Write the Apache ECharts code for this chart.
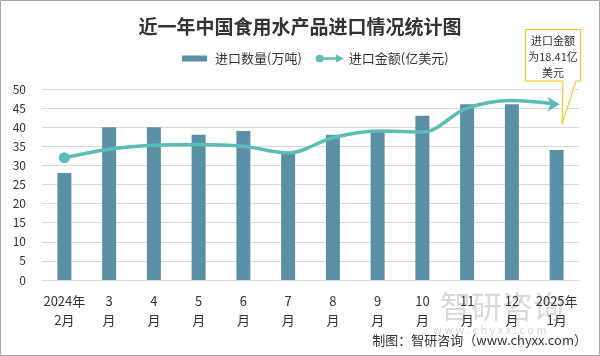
<!DOCTYPE html>
<html><head><meta charset="utf-8">
<script src="https://cdn.jsdelivr.net/npm/echarts@6/dist/echarts.min.js"></script>
<style>html,body{margin:0;padding:0;background:#fff}#c{width:600px;height:356px}</style>
</head><body><div id="c"></div>
<script>
const categories = ['2024年\n2月','3\n月','4\n月','5\n月','6\n月','7\n月','8\n月','9\n月','10\n月','11\n月','12\n月','2025年\n1月'];
const quantity = [28, 40, 40, 38, 39, 33, 38, 39, 43, 46, 46, 34];
const amount = [12.8, 13.7, 14.1, 14.2, 14.0, 13.3, 14.9, 15.6, 15.5, 18.0, 18.8, 18.41];
const yTicks = [0, 5, 10, 15, 20, 25, 30, 35, 40, 45, 50];

const chart = echarts.init(document.getElementById('c'), null, {renderer:'canvas'});
const lineData = amount.map((v, i) => {
  if (i === 0) return {value: v, symbol: 'circle', symbolSize: 11};
  if (i === amount.length - 1) return {value: v, symbol: 'arrow', symbolSize: [11, 12], symbolRotate: -90, symbolOffset: [3, 0]};
  return {value: v, symbol: 'none'};
});
const font = '"Microsoft YaHei","Noto Sans CJK SC",sans-serif';
chart.setOption({
  animation: false,
  title: {
    text: '近一年中国食用水产品进口情况统计图', left: 'center', top: 12,
    textStyle: {fontSize: 19, fontWeight: 'bold', color: '#333', fontFamily: '"Noto Sans CJK SC",serif'}
  },
  legend: {
    top: 47, left: 177, itemGap: 14, itemWidth: 28, itemHeight: 10,
    textStyle: {fontSize: 13, color: '#333', fontFamily: font},
    data: [
      {name: '进口数量(万吨)', icon: 'path://M0,0L0.01,0M0,2L26,2L26,8L0,8Z M29,10L29,10'},
      {name: '进口金额(亿美元)', icon: 'path://M0,5A4,4,0,1,1,8,5A4,4,0,1,1,0,5Z M6,3.8L21,3.8L21,0.8L29,5L21,9.2L21,6.2L6,6.2Z', itemStyle: {color: '#5cbdb5'}}
    ]
  },
  grid: {left: 42, right: 21, top: 89, bottom: 76},
  xAxis: {
    type: 'category', data: categories,
    axisLine: {lineStyle: {color: '#d9d9d9'}}, axisTick: {show: false},
    axisLabel: {color: '#333', fontSize: 13, lineHeight: 19, margin: 12, interval: 0, fontFamily: font}
  },
  yAxis: [
    {type: 'value', min: yTicks[0], max: yTicks[yTicks.length - 1], interval: 5,
     axisLine: {show: false}, axisTick: {show: false},
     axisLabel: {color: '#333', fontSize: 12, margin: 16, fontFamily: font},
     splitLine: {lineStyle: {color: '#d9d9d9'}}},
    {type: 'value', min: 0, max: 20, show: false, splitLine: {show: false}}
  ],
  series: [
    {name: '进口数量(万吨)', type: 'bar', data: quantity, barWidth: 14, itemStyle: {color: '#5b8fa6'}},
    {name: '进口金额(亿美元)', type: 'line', yAxisIndex: 1, data: lineData, smooth: 0.35,
     lineStyle: {color: '#5cbdb5', width: 3.5}, itemStyle: {color: '#5cbdb5'}, z: 5}
  ],
  graphic: [
    {type: 'rect', shape: {x: 0.5, y: 0.5, width: 599, height: 355}, style: {fill: 'none', stroke: '#a6a6a6', lineWidth: 1}, silent: true},
    {type: 'text', left: 440, top: 291, style: {text: '智研咨询', fontSize: 31, fill: 'rgba(170,170,170,0.45)', fontFamily: font}, z: 0},
    {type: 'text', left: 433, top: 324, style: {text: 'w w w . c h y x x . c o m', fontSize: 11, fill: 'rgba(170,170,170,0.5)', fontFamily: font}, z: 0},
    {type: 'polygon', shape: {points: [[525.5, 29.5], [580.5, 29.5], [580.5, 81], [576, 81], [562, 124], [563, 81], [525.5, 81]]},
     style: {fill: '#fff', stroke: '#ffc000', lineWidth: 1}, z: 10},
    {type: 'text', x: 553, y: 33, z: 11,
     style: {text: '进口金额\n为18.41亿\n美元', align: 'center', fontSize: 11, lineHeight: 16, fill: '#333', fontFamily: font}},
    {type: 'text', right: 13, top: 334, style: {text: '制图：智研咨询（www.chyxx.com）', fontSize: 13, fill: '#333', fontFamily: '"Noto Sans CJK SC",serif'}}
  ]
});
</script></body></html>
